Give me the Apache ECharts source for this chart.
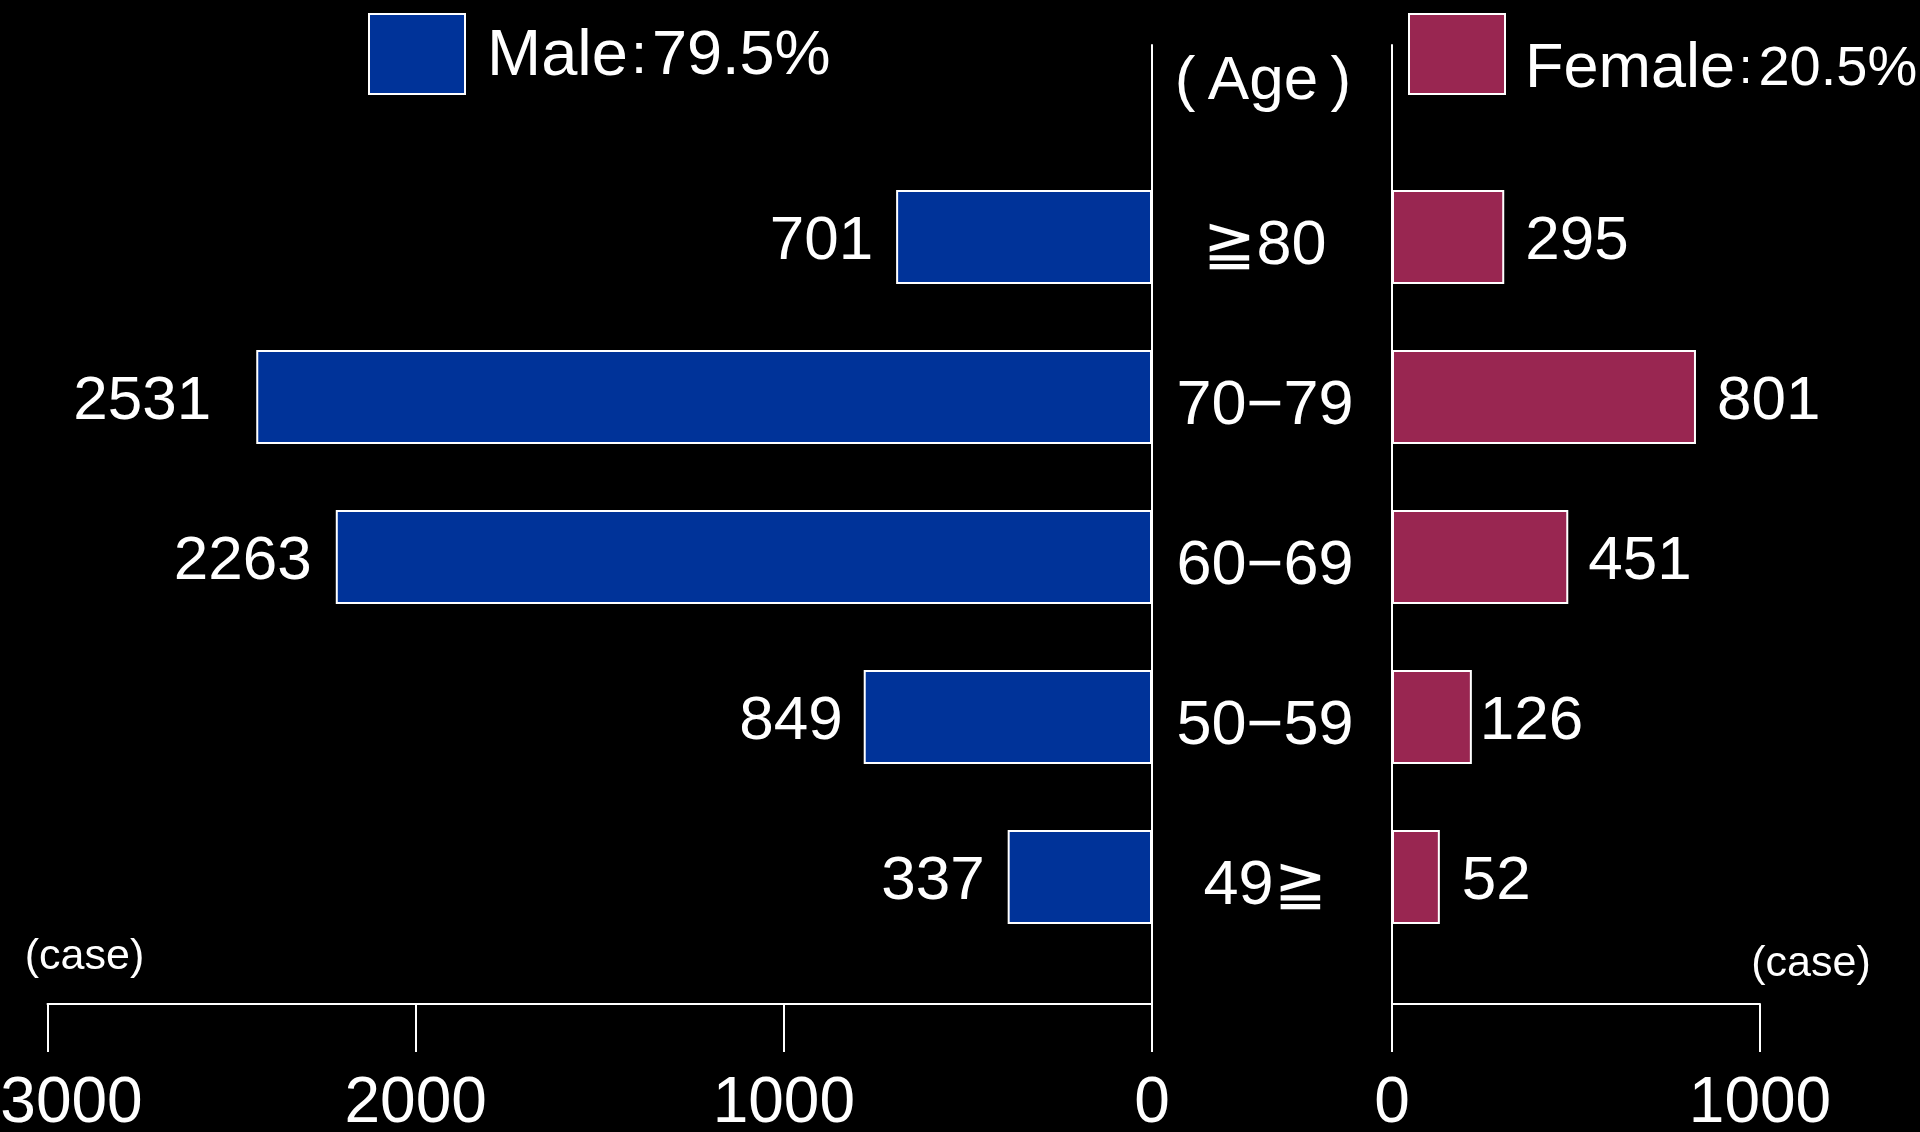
<!DOCTYPE html>
<html style="height: 100%">
   <head>
       <meta charset="utf-8">
   </head>
   <body style="height: 100%; margin: 0; background: #000">
       <div id="container" style="width: 1920px; height: 1132px"></div>
       <script type="text/javascript" src="https://cdn.jsdelivr.net/npm/echarts@6/dist/echarts.min.js"></script>
       <script type="text/javascript">
// age groups, top to bottom
var ageGroups = ['≧80', '70−79', '60−69', '50−59', '49≧'];
// printed case counts
var maleCounts = [701, 2531, 2263, 849, 337];
var femaleCounts = [295, 801, 451, 126, 52];
// bar lengths as drawn in the picture
var maleBars = [695, 2433, 2217, 783, 392];
var femaleBars = [305, 826, 479, 217, 130];
var shares = {Male: '79.5%', Female: '20.5%'};

var FONT = '"Liberation Sans", Arial, sans-serif';
var maleGap = [23, 45, 24, 21, 23];
var femaleGap = [21, 21, 20, 8, 22];

var dom = document.getElementById("container");
var myChart = echarts.init(dom);

function barData(vals, gaps) {
    return vals.map(function (v, i) {
        return {value: v, label: {distance: gaps[i]}};
    });
}

var option = {
    backgroundColor: '#000',
    animation: false,
    textStyle: {fontFamily: FONT},
    grid: [
        {left: 47.5, right: 768, top: 157, bottom: 175, outerBoundsMode: 'none'},
        {left: 1392, width: 368, top: 157, bottom: 175, outerBoundsMode: 'none'},
        {left: 47.5, right: 768, top: 45, bottom: 128, outerBoundsMode: 'none'},
        {left: 1392, width: 368, top: 45, bottom: 128, outerBoundsMode: 'none'}
    ],
    legend: [
        {
            data: ['Male'], left: 368, top: 13, padding: 0,
            icon: 'rect', itemWidth: 96, itemHeight: 80, selectedMode: false,
            itemStyle: {borderColor: '#fff', borderWidth: 2},
            formatter: function (n) { return '{mn|' + n + '}{mc|:}{mp|' + shares[n] + '}'; },
            textStyle: {
                color: '#fff', fontFamily: FONT, padding: [6, 0, 0, 17],
                rich: {
                    mn: {fontSize: 65, color: '#fff', fontFamily: FONT},
                    mc: {fontSize: 58, color: '#fff', fontFamily: FONT, padding: [0, 5, 0, 3]},
                    mp: {fontSize: 63, color: '#fff', fontFamily: FONT}
                }
            }
        },
        {
            data: ['Female'], left: 1408, top: 13, padding: 0,
            icon: 'rect', itemWidth: 96, itemHeight: 80, selectedMode: false,
            itemStyle: {borderColor: '#fff', borderWidth: 2},
            formatter: function (n) { return '{fn|' + n + '}{fc|:}{fp|' + shares[n] + '}'; },
            textStyle: {
                color: '#fff', fontFamily: FONT, padding: [32, 0, 0, 15],
                rich: {
                    fn: {fontSize: 63, color: '#fff', fontFamily: FONT},
                    fc: {fontSize: 48, color: '#fff', fontFamily: FONT, padding: [0, 6, 0, 4]},
                    fp: {fontSize: 56, color: '#fff', fontFamily: FONT}
                }
            }
        }
    ],
    xAxis: [
        {gridIndex: 0, type: 'value', inverse: true, min: 0, max: 3000, show: false},
        {gridIndex: 1, type: 'value', min: 0, max: 1000, show: false},
        {
            gridIndex: 2, type: 'value', inverse: true, min: 0, max: 3000, interval: 1000,
            axisLine: {show: true, lineStyle: {color: '#fff', width: 2}},
            axisTick: {show: true, length: 48, lineStyle: {color: '#fff', width: 2}},
            splitLine: {show: false},
            axisLabel: {
                color: '#fff', fontSize: 64, fontFamily: FONT, margin: 68,
                formatter: function (v) { return v === 3000 ? '{e|' + v + '}' : String(v); },
                rich: {e: {fontSize: 64, color: '#fff', fontFamily: FONT, padding: [0, 0, 0, 48]}}
            }
        },
        {
            gridIndex: 3, type: 'value', min: 0, max: 1000, interval: 1000,
            axisLine: {show: true, lineStyle: {color: '#fff', width: 2}},
            axisTick: {show: true, length: 48, lineStyle: {color: '#fff', width: 2}},
            splitLine: {show: false},
            axisLabel: {
                color: '#fff', fontSize: 64, fontFamily: FONT, margin: 68,
                formatter: function (v) { return String(v); }
            }
        }
    ],
    yAxis: [
        {
            gridIndex: 0, type: 'category', data: ageGroups, inverse: true, position: 'right',
            axisLine: {show: false}, axisTick: {show: false},
            axisLabel: {
                color: '#fff', fontSize: 63, fontFamily: FONT, align: 'center',
                margin: 113, verticalAlign: 'top', lineHeight: 20
            }
        },
        {
            gridIndex: 1, type: 'category', data: ageGroups, inverse: true,
            axisLine: {show: false}, axisTick: {show: false}, axisLabel: {show: false}
        },
        {
            gridIndex: 2, type: 'value', min: 0, max: 1, position: 'right',
            axisLine: {show: true, lineStyle: {color: '#fff', width: 2}},
            axisTick: {show: false}, axisLabel: {show: false}, splitLine: {show: false}
        },
        {
            gridIndex: 3, type: 'value', min: 0, max: 1, position: 'left',
            axisLine: {show: true, lineStyle: {color: '#fff', width: 2}},
            axisTick: {show: false}, axisLabel: {show: false}, splitLine: {show: false}
        }
    ],
    graphic: [
        {type: 'text', x: 1263, y: 82, style: {text: '(\u2009Age\u2009)', fill: '#fff', font: '62px ' + FONT, textAlign: 'center', textVerticalAlign: 'middle'}},
        {type: 'text', x: 84.5, y: 957, style: {text: '(case)', fill: '#fff', font: '43px ' + FONT, textAlign: 'center', textVerticalAlign: 'middle'}},
        {type: 'text', x: 1811, y: 964, style: {text: '(case)', fill: '#fff', font: '43px ' + FONT, textAlign: 'center', textVerticalAlign: 'middle'}}
    ],
    series: [
        {
            name: 'Male', type: 'bar', xAxisIndex: 0, yAxisIndex: 0,
            data: barData(maleBars, maleGap), barWidth: 94,
            itemStyle: {color: '#003399', borderColor: '#fff', borderWidth: 2},
            label: {
                show: true, position: 'left', color: '#fff', fontSize: 62, fontFamily: FONT,
                offset: [0, 5],
                formatter: function (p) { return maleCounts[p.dataIndex]; }
            }
        },
        {
            name: 'Female', type: 'bar', xAxisIndex: 1, yAxisIndex: 1,
            data: barData(femaleBars, femaleGap), barWidth: 94,
            itemStyle: {color: '#992651', borderColor: '#fff', borderWidth: 2},
            label: {
                show: true, position: 'right', color: '#fff', fontSize: 62, fontFamily: FONT,
                offset: [0, 5],
                formatter: function (p) { return femaleCounts[p.dataIndex]; }
            }
        }
    ]
};

myChart.setOption(option);
       </script>
   </body>
</html>
